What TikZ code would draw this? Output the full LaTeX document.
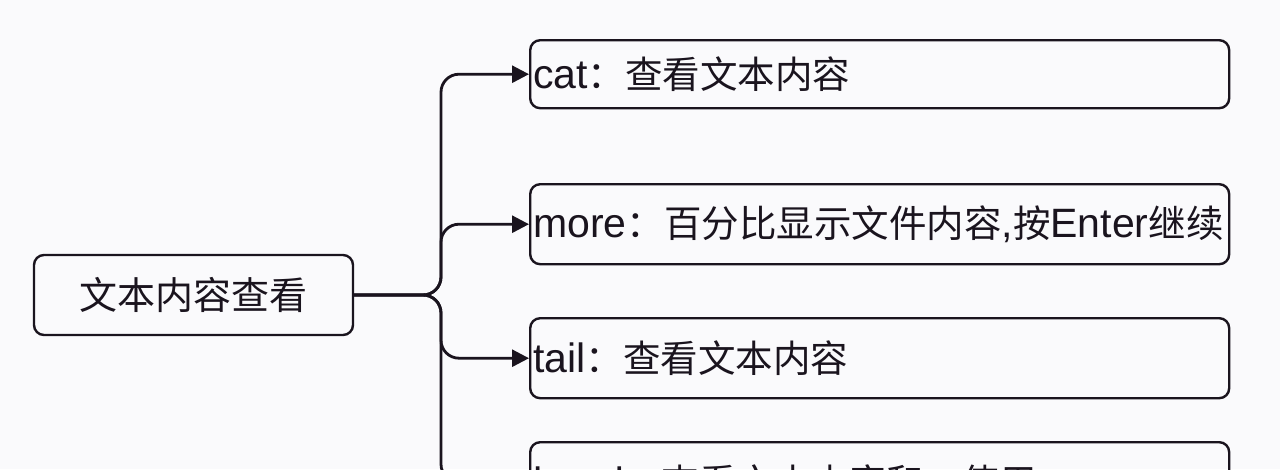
\documentclass[tikz,border=0pt]{standalone}
\usepackage{fontspec}
\setmainfont{Liberation Sans}
\newfontfamily\cjk{Noto Sans CJK SC}
\usepackage{xcolor}
\usepackage{tikz}
\usetikzlibrary{positioning,arrows.meta}
\definecolor{pagebg}{RGB}{250,250,252}
\definecolor{inkc}{RGB}{26,20,30}
\newcommand{\zh}[1]{{\cjk\fontsize{37.5}{44}\selectfont #1}}

\begin{document}
\begin{tikzpicture}[x=1pt,y=-1pt,
    topic/.style={draw=inkc, line width=2.4pt, rounded corners=10pt, minimum width=319pt, minimum height=80pt, text=inkc, font=\cjk\fontsize{38}{44}\selectfont},
    item/.style={draw=inkc, line width=2.4pt, rounded corners=10pt, anchor=north west, text width=693pt, inner xsep=3pt, minimum height=80pt, align=left, text=inkc, font=\fontsize{41}{46}\selectfont},
    link/.style={draw=inkc, line width=2.8pt, rounded corners=18pt, -{Triangle[length=17pt,width=17pt]}}]
    % Canvas
    \useasboundingbox (0,0) rectangle (1280,469);
    \fill[pagebg] (0,0) rectangle (1280,469);
    \clip (0,0) rectangle (1280,469);

    % Root
    \node[topic] (root) at (193.5,295) {文本内容查看};
    \coordinate (fork) at (441,295);

    % Commands
    \node[item, minimum height=68pt] (cat) at (529,39) {cat\zh{：查看文本内容}};
    \node[item] (more) at (529,183) {more\zh{：百分比显示文件内容},\zh{按}Enter\zh{继续}};
    \node[item] (tail) at (529,317) {tail\zh{：查看文本内容}};
    \node[item] (head) at (529,441) {head\zh{：查看文本内容和，使用}};

    % Links
    \draw[link] (root.east) -- (fork) |- (cat.west);
    \draw[link] (root.east) -- (fork) |- (more.west);
    \draw[link] (root.east) -- (fork) |- (tail.west);
    \draw[link] (root.east) -- (fork) |- (head.west);
\end{tikzpicture}
\end{document}
